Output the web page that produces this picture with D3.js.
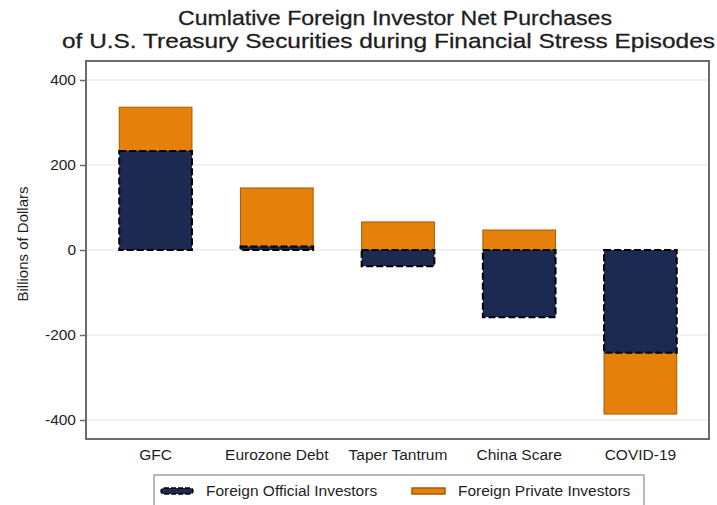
<!DOCTYPE html>
<html>
<head>
<meta charset="utf-8">
<script src="https://cdn.jsdelivr.net/npm/d3@7"></script>
<style>
  body { margin: 0; background: #fff; }
  svg { display: block; font-family: "Liberation Sans", Arial, sans-serif; }
</style>
</head>
<body>
<svg id="chart" width="717" height="505"></svg>
<script>
// values, billions of dollars
const episodes = ['GFC', 'Eurozone Debt', 'Taper Tantrum', 'China Scare', 'COVID-19'];
const officialValues = [233, 8, -38, -158, -242];
const privateValues = [103, 138, 66, 47, -144];
const yTicks = [400, 200, 0, -200, -400];
const seriesNames = ['Foreign Official Investors', 'Foreign Private Investors'];

const colors = { official: '#1c2a52', private: '#e5800a', privateStroke: '#a65a05' };
const font = '"Liberation Sans", Arial, sans-serif';
const textColor = '#1e1e1e';

const rows = episodes.map((e, i) => ({ episode: e, official: officialValues[i], private: privateValues[i] }));

const svg = d3.select('#chart');
const frame = { left: 86, top: 61, right: 709, bottom: 439 };

const x = d3.scaleBand()
  .domain(episodes)
  .range([95, 701])
  .paddingInner(0.4)
  .paddingOuter(0.2);

const y = d3.scaleLinear()
  .domain([-400, 400])
  .range([420, 80]);

// title
svg.append('text')
  .attr('x', 178).attr('y', 25)
  .attr('font-size', 21)
  .attr('fill', textColor)
  .attr('stroke', textColor)
  .attr('stroke-width', 0.3)
  .attr('textLength', 434)
  .attr('lengthAdjust', 'spacingAndGlyphs')
  .text('Cumlative Foreign Investor Net Purchases');
svg.append('text')
  .attr('x', 62).attr('y', 48)
  .attr('font-size', 21)
  .attr('fill', textColor)
  .attr('stroke', textColor)
  .attr('stroke-width', 0.3)
  .attr('textLength', 653)
  .attr('lengthAdjust', 'spacingAndGlyphs')
  .text('of U.S. Treasury Securities during Financial Stress Episodes');

// gridlines
svg.append('g')
  .selectAll('line')
  .data(yTicks)
  .join('line')
  .attr('x1', frame.left).attr('x2', frame.right)
  .attr('y1', (d) => y(d)).attr('y2', (d) => y(d))
  .attr('stroke', '#ececec')
  .attr('stroke-width', 1.5);

// stacked bars, diverging so negatives stack downward
const stacked = d3.stack()
  .keys(['official', 'private'])
  .offset(d3.stackOffsetDiverging)(rows);

const officialLayer = stacked[0];
const privateLayer = stacked[1];

svg.append('g')
  .selectAll('rect')
  .data(privateLayer)
  .join('rect')
  .attr('x', (d) => x(d.data.episode))
  .attr('width', x.bandwidth())
  .attr('y', (d) => y(Math.max(d[0], d[1])))
  .attr('height', (d) => Math.abs(y(d[0]) - y(d[1])))
  .attr('fill', colors.private)
  .attr('stroke', colors.privateStroke)
  .attr('stroke-width', 1);

svg.append('g')
  .selectAll('rect')
  .data(officialLayer)
  .join('rect')
  .attr('x', (d) => x(d.data.episode))
  .attr('width', x.bandwidth())
  .attr('y', (d) => y(Math.max(d[0], d[1])))
  .attr('height', (d) => Math.abs(y(d[0]) - y(d[1])))
  .attr('fill', colors.official)
  .attr('stroke', '#000')
  .attr('stroke-width', 2)
  .attr('stroke-dasharray', '7,3');

// plot frame
svg.append('rect')
  .attr('x', frame.left).attr('y', frame.top)
  .attr('width', frame.right - frame.left)
  .attr('height', frame.bottom - frame.top)
  .attr('fill', 'none')
  .attr('stroke', '#6b6b6b')
  .attr('stroke-width', 2);

// y axis
const yAxis = svg.append('g')
  .attr('transform', `translate(${frame.left},0)`)
  .call(d3.axisLeft(y).tickValues(yTicks).tickFormat((d) => String(d)).tickSize(6).tickPadding(4));
yAxis.select('.domain').remove();
yAxis.selectAll('.tick line').attr('stroke', '#6b6b6b').attr('stroke-width', 1.5);
yAxis.selectAll('.tick text')
  .attr('font-size', 15.5)
  .attr('font-family', font)
  .attr('fill', textColor);

svg.append('text')
  .attr('transform', 'translate(28,244) rotate(-90)')
  .attr('text-anchor', 'middle')
  .attr('font-size', 15)
  .attr('fill', textColor)
  .text('Billions of Dollars');

// category labels
const xAxis = svg.append('g')
  .attr('transform', `translate(0,${frame.bottom})`)
  .call(d3.axisBottom(x).tickSize(0).tickPadding(10));
xAxis.select('.domain').remove();
xAxis.selectAll('.tick text')
  .attr('font-size', 15.5)
  .attr('font-family', font)
  .attr('fill', textColor);

// legend
const legend = svg.append('g');
legend.append('rect')
  .attr('x', 154).attr('y', 475)
  .attr('width', 490).attr('height', 40)
  .attr('fill', '#fff')
  .attr('stroke', '#a0a0a0')
  .attr('stroke-width', 1.5);

const legendItems = [
  { name: seriesNames[0], x: 161, fill: colors.official, stroke: '#000', dash: '5,2', w: 32 },
  { name: seriesNames[1], x: 412, fill: colors.private, stroke: colors.privateStroke, dash: null, w: 33 },
];
const li = legend.selectAll('g.item')
  .data(legendItems)
  .join('g')
  .attr('class', 'item');
li.append('rect')
  .attr('x', (d) => d.x).attr('y', 488)
  .attr('width', (d) => d.w).attr('height', 6)
  .attr('rx', (d) => (d.dash ? 3 : 0))
  .attr('fill', (d) => d.fill)
  .attr('stroke', (d) => d.stroke)
  .attr('stroke-width', 1.5)
  .attr('stroke-dasharray', (d) => d.dash);
li.append('text')
  .attr('x', (d) => d.x + d.w + 13)
  .attr('y', 496)
  .attr('font-size', 15.5)
  .attr('fill', textColor)
  .text((d) => d.name);
</script>
</body>
</html>
